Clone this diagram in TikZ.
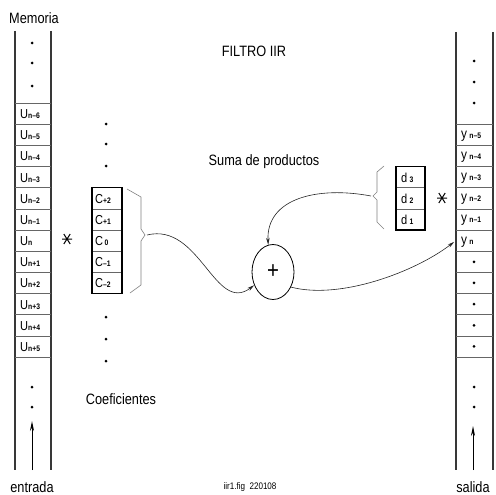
\documentclass[tikz,border=0pt]{standalone}
\usepackage{fontspec}
\setmainfont{Liberation Sans}[FakeStretch=0.85]
\usetikzlibrary{arrows.meta,shapes.geometric}
\newcommand\cellsub[1]{{\fontsize{8}{8}\selectfont\bfseries #1}}
\def\rt{103}
\def\rh{21.17}
\begin{document}
\begin{tikzpicture}[x=1pt,y=-1pt,
  col/.style={line width=1.5pt, draw=black!78},
  sep/.style={line width=0.6pt, draw=black!60},
  boxline/.style={line width=1.3pt, draw=black},
  lbl/.style={font=\fontsize{15}{15}\selectfont, inner sep=0pt},
  small/.style={font=\fontsize{9.5}{9.5}\selectfont, inner sep=0pt},
  cell/.style={inner sep=0pt, anchor=base west, font=\fontsize{13}{13}\selectfont},
  conn/.style={line width=0.6pt, draw=black!85, -{Stealth[length=7pt,width=3.5pt]}},
  brace/.style={line width=0.6pt, draw=black!50},
  inarrow/.style={line width=1pt, -{Stealth[length=10pt,width=4pt]}},
  mulstar/.pic={\draw[line width=1pt] (-5,0)--(5,0) (-3.2,-5)--(3.2,5) (-3.2,5)--(3.2,-5);}
]
\useasboundingbox (0,0) rectangle (495,495);

% ---- left memory column ----
\draw[col] (15,31) -- (15,470);
\draw[col] (51,31) -- (51,470);
\foreach \k in {0,...,12} \draw[sep] (15,{\rt+\rh*\k}) -- (51,{\rt+\rh*\k});
\foreach \yy in {43,63,86,387,407} \fill (32,\yy) circle[radius=1.5pt];
\foreach \i/\s in {0/n--6,1/n--5,2/n--4,3/n--3,4/n--2,5/n--1,6/n,7/n+1,8/n+2,9/n+3,10/n+4,11/n+5}
  \node[cell] (u\i) at (20,{\rt+\rh*\i+15.5}) {U\cellsub{\s}};
\node[lbl] (memoria) at (34,18) {Memoria};
\node[lbl] (entrada) at (32,487) {entrada};
\coordinate (inbot) at (32,470);
\coordinate (intip) at (32,421);
\draw[inarrow] (inbot) -- (intip);

% ---- right output column ----
\draw[col] (456,32) -- (456,470);
\draw[col] (493,32) -- (493,470);
\foreach \k in {1,...,12} \draw[sep] (456,{\rt+\rh*\k}) -- (493,{\rt+\rh*\k});
\foreach \yy in {61,82,103,387,407} \fill (474,\yy) circle[radius=1.5pt];
\foreach \k in {7,...,11} \fill (474,{\rt+\rh*(\k+0.5)}) circle[radius=1.5pt];
\foreach \i/\s in {1/n--5,2/n--4,3/n--3,4/n--2,5/n--1,6/n}
  \node[cell, font=\fontsize{14}{14}\selectfont] (y\i) at (461,{\rt+\rh*\i+14}) {y\,\cellsub{\s}};
\node[minimum width=37pt, minimum height=21pt, inner sep=0pt] (yn) at (474.5,{\rt+\rh*6.5}) {};
\node[lbl] (salida) at (473,487) {salida};
\coordinate (outbot) at (473,470);
\coordinate (outtip) at (473,426);
\draw[inarrow] (outbot) -- (outtip);

% ---- coefficient box ----
\foreach \yy in {124,144,166,317,339,361} \fill (106,\yy) circle[radius=1.5pt];
\foreach \k in {5,...,8} \draw[sep] (92,{\rt+\rh*\k}) -- (122,{\rt+\rh*\k});
\draw[boxline] (92,{\rt+\rh*4}) rectangle (122,{\rt+\rh*9});
\foreach \i/\s in {4/+2,5/+1,6/{\,0},7/--1,8/--2}
  \node[cell] (c\i) at (95,{\rt+\rh*\i+15.5}) {C\cellsub{\s}};
\draw[brace] (127,189) -- (141,197) -- (141,229) -- (145,235) -- (141,241) -- (141,285) -- (130,293);
\coordinate (cb) at (147,235);
\node[lbl] (coef) at (121,399) {Coeficientes};
\pic at (67,239) {mulstar};

% ---- feedback coefficient box ----
\foreach \k in {4,5} \draw[sep] (396,{\rt+\rh*\k}) -- (425,{\rt+\rh*\k});
\draw[boxline] (396,{\rt+\rh*3}) rectangle (425,{\rt+\rh*6});
\foreach \i/\s in {3/3,4/2,5/1}
  \node[cell] (d\i) at (401,{\rt+\rh*\i+15.5}) {d\,\cellsub{\s}};
\draw[brace] (384,166) -- (377,172) -- (377,192) -- (373,196) -- (377,200) -- (377,222) -- (384,229);
\coordinate (db) at (371,196);
\pic at (442,198) {mulstar};

% ---- sum ----
\node[draw, ellipse, line width=0.8pt, minimum width=42pt, minimum height=55pt, inner sep=0pt,
      font=\fontsize{24}{24}\selectfont] (sum) at (273,272) {+};
\draw[conn] (cb) .. controls (200,222) and (215,315) .. (sum.215);
\draw[conn] (db) .. controls (318,186) and (266,198) .. (sum.100);
\draw[conn, shorten >=2pt] (sum.-40) .. controls (340,300) and (415,272) .. (yn.west);

% ---- titles ----
\node[lbl] (title) at (254,51) {FILTRO IIR};
\node[lbl] (suma) at (264,162) {Suma de productos};
\node[small] (fig) at (250,487) {iir1.fig\ \ 220108};
\end{tikzpicture}
\end{document}
